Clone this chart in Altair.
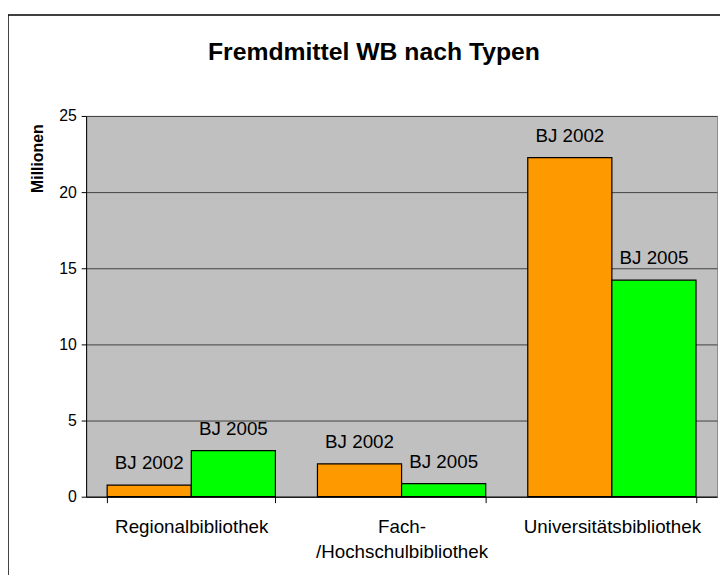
import altair as alt
import pandas as pd

categories = ["Regionalbibliothek", "Fach-/Hochschulbibliothek", "Universitätsbibliothek"]
series = ["BJ 2002", "BJ 2005"]
values_2002 = [0.76, 2.16, 22.27]
values_2005 = [3.03, 0.86, 14.22]
colors = ["#FF9900", "#00FF00"]
y_ticks = [0, 5, 10, 15, 20, 25]

rows = []
for c, a, b in zip(categories, values_2002, values_2005):
    rows.append({"Typ": c, "Jahr": series[0], "Wert": a})
    rows.append({"Typ": c, "Jahr": series[1], "Wert": b})
df = pd.DataFrame(rows)

W, H = 638, 385
FONT = "Liberation Sans"

x_enc = alt.X(
    "Typ:N",
    sort=categories,
    scale=alt.Scale(paddingInner=0.2, paddingOuter=0.1),
    axis=alt.Axis(
        title=None,
        labelAngle=0,
        labelFontSize=19,
        labelFont=FONT,
        labelColor="#000000",
        labelPadding=15,
        labelLineHeight=26,
        labelExpr="datum.value == 'Fach-/Hochschulbibliothek' ? ['Fach-', '/Hochschulbibliothek'] : datum.label",
        tickBand="extent",
        tickSize=6,
        tickColor="#000000",
        domainColor="#000000",
        labelLimit=300,
    ),
)
xo_enc = alt.XOffset("Jahr:N", sort=series, scale=alt.Scale(paddingInner=0, paddingOuter=0))
y_enc = alt.Y(
    "Wert:Q",
    scale=alt.Scale(domain=[0, 25], nice=False),
    axis=alt.Axis(
        title="Millionen",
        titleFont=FONT,
        titleFontSize=16,
        titleFontWeight="bold",
        titleColor="#000000",
        titleAngle=-90,
        titleAlign="right",
        titleBaseline="bottom",
        titleX=-41,
        titleY=8,
        values=y_ticks,
        labelFontSize=16,
        labelFont=FONT,
        labelColor="#000000",
        labelPadding=5,
        tickSize=5,
        tickColor="#000000",
        domainColor="#000000",
        gridColor="#404040",
        gridWidth=1,
    ),
)

base = alt.Chart(df)
bars = base.mark_bar(stroke="#000000", strokeWidth=1.2).encode(
    x=x_enc,
    xOffset=xo_enc,
    y=y_enc,
    color=alt.Color("Jahr:N", sort=series, scale=alt.Scale(domain=series, range=colors), legend=None),
)
labels = base.mark_text(baseline="alphabetic", dy=-16, fontSize=19, font=FONT, color="#000000").encode(
    x=alt.X("Typ:N", sort=categories),
    xOffset=alt.XOffset("Jahr:N", sort=series),
    y="Wert:Q",
    text="Jahr:N",
)

frame_left = alt.Chart(alt.Data(values=[{}])).mark_rule(color="#000000", strokeWidth=1.5).encode(
    x=alt.value(-79), y=alt.value(-102), y2=alt.value(H + 200)
)
frame_top = alt.Chart(alt.Data(values=[{}])).mark_rule(color="#000000", strokeWidth=1.5).encode(
    x=alt.value(-79), x2=alt.value(W + 100), y=alt.value(-102)
)

chart = alt.layer(bars, labels, frame_left, frame_top).properties(
    width=W,
    height=H,
    title=alt.TitleParams(
        "Fremdmittel WB nach Typen",
        font=FONT,
        fontSize=25,
        fontWeight="bold",
        color="#000000",
        anchor="middle",
        dx=-28,
        offset=-76,
        baseline="bottom",
    ),
    autosize=alt.AutoSizeParams(type="none"),
    padding={"left": 79, "top": 106, "right": 3, "bottom": 76},
    background="#FFFFFF",
).configure_view(
    fill="#C0C0C0", stroke="#8C8C8C", strokeWidth=1
)

chart.save("out.html", embed_options={"renderer": "svg", "actions": False})
